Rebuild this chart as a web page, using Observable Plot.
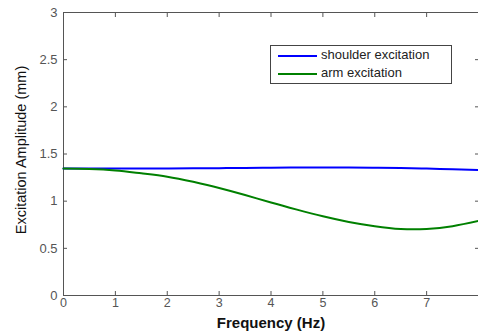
<!DOCTYPE html>
<html><head><meta charset="utf-8">
<script src="https://cdn.jsdelivr.net/npm/d3@7"></script>
<script src="https://cdn.jsdelivr.net/npm/@observablehq/plot@0.6"></script>
<style>
html,body{margin:0;padding:0;background:#fff;}
#wrap{position:relative;width:478px;height:335px;overflow:hidden;font-family:Arial,"Liberation Sans",sans-serif;}
#legend{position:absolute;left:270px;top:45px;width:180px;height:37px;border:1px solid #444;background:#fff;font-size:13px;color:#222;}
#legend .row{position:absolute;left:7px;height:16px;line-height:16px;white-space:nowrap;}
#legend .sw{display:inline-block;width:39px;height:2px;vertical-align:middle;margin-right:4px;}
</style></head>
<body><div id="wrap"></div>
<script>
const freq = [0, 0.5, 1, 1.5, 2, 2.5, 3, 3.5, 4, 4.5, 5, 5.5, 6, 6.5, 7, 7.5, 8];
const shoulder = [1.345, 1.345, 1.345, 1.346, 1.347, 1.348, 1.35, 1.352, 1.355, 1.356, 1.357, 1.357, 1.355, 1.352, 1.345, 1.338, 1.33];
const arm = [1.345, 1.34, 1.325, 1.295, 1.26, 1.205, 1.14, 1.065, 0.985, 0.91, 0.84, 0.78, 0.735, 0.705, 0.705, 0.735, 0.79];
const seriesNames = ["shoulder excitation", "arm excitation"];
const seriesColors = ["#0000ff", "#008000"];
const xTicks = [0, 1, 2, 3, 4, 5, 6, 7];
const yTicks = [0, 0.5, 1, 1.5, 2, 2.5, 3];

const rows = [];
freq.forEach((f, i) => {
  rows.push({f, v: shoulder[i], s: seriesNames[0]});
  rows.push({f, v: arm[i], s: seriesNames[1]});
});

const chart = Plot.plot({
  width: 478, height: 335,
  marginLeft: 63, marginRight: 0, marginTop: 12, marginBottom: 40,
  style: {fontFamily: "Arial, 'Liberation Sans', sans-serif", fontSize: "12px", background: "#fff", overflow: "visible"},
  x: {domain: [0, 8]},
  y: {domain: [0, 3]},
  color: {domain: seriesNames, range: seriesColors},
  marks: [
    Plot.frame({stroke: "#555", strokeWidth: 1}),
    Plot.axisX(xTicks, {anchor: "bottom", tickSize: -4, tickPadding: 7, stroke: "#555", color: "#555", fontSize: 12.5, label: null}),
    Plot.axisX(xTicks, {anchor: "top", tickSize: -4, tickFormat: () => "", stroke: "#555", label: null}),
    Plot.axisY(yTicks, {anchor: "left", tickSize: -4, tickPadding: 10, stroke: "#555", color: "#555", fontSize: 13, label: null, tickFormat: d => String(d)}),
    Plot.axisY(yTicks, {anchor: "right", tickSize: -4, tickFormat: () => "", stroke: "#555", label: null}),
    Plot.line(rows, {x: "f", y: "v", z: "s", stroke: "s", strokeWidth: 2, curve: "natural"}),
    Plot.text(["Frequency (Hz)"], {frameAnchor: "bottom", dy: 28, textAnchor: "middle", lineAnchor: "middle", fontWeight: "bold", fontSize: 15, fill: "#111"}),
    Plot.text(["Excitation Amplitude (mm)"], {frameAnchor: "left", dx: -42, dy: -4, textAnchor: "middle", lineAnchor: "middle", rotate: -90, fontSize: 14.5, fill: "#111"})
  ]
});
const wrap = document.getElementById("wrap");
wrap.appendChild(chart);
const lg = document.createElement("div");
lg.id = "legend";
seriesNames.forEach((n, i) => {
  const r = document.createElement("div");
  r.className = "row";
  r.style.top = (1 + i * 18) + "px";
  r.innerHTML = `<span class="sw" style="background:${seriesColors[i]}"></span>${n}`;
  lg.appendChild(r);
});
wrap.appendChild(lg);
</script></body></html>
